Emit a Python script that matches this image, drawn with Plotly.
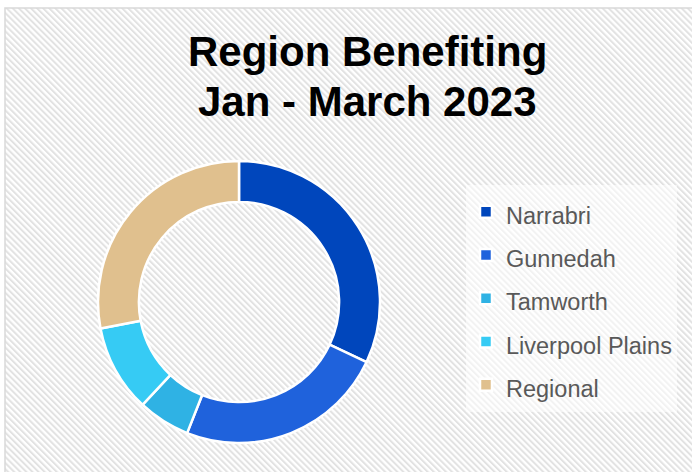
import base64
import plotly.graph_objects as go

labels = ["Narrabri", "Gunnedah", "Tamworth", "Liverpool Plains", "Regional"]
values = [32, 24, 6, 10, 28]
colors = ["#0046bc", "#1f62dc", "#2fb2e4", "#36cbf4", "#e0c08e"]

W, H = 692, 472

# diagonal hatch background as an SVG image
svg = (
    f'<svg xmlns="http://www.w3.org/2000/svg" width="{W-5}" height="{H-8}">'
    '<defs><pattern id="p" width="4.3" height="4.3" patternUnits="userSpaceOnUse" '
    'patternTransform="rotate(-45)">'
    '<rect width="4.3" height="4.3" fill="#ffffff"/>'
    '<rect width="2" height="4.3" fill="#e2e2e2"/></pattern></defs>'
    '<rect width="100%" height="100%" fill="url(#p)"/></svg>'
)
src = "data:image/svg+xml;base64," + base64.b64encode(svg.encode()).decode()

legend_labels = [f'<span style="font-size:23.5px">{l}</span>' for l in labels]

cx, cy, r = 239, 302, 141
fig = go.Figure(
    go.Pie(
        labels=legend_labels,
        values=values,
        hole=0.71,
        sort=False,
        direction="clockwise",
        rotation=0,
        textinfo="none",
        marker=dict(colors=colors, line=dict(color="#ffffff", width=2.5)),
        domain=dict(x=[(cx - r) / W, (cx + r) / W],
                    y=[(H - cy - r) / H, (H - cy + r) / H]),
    )
)

fig.update_layout(
    width=W,
    height=H,
    margin=dict(l=0, r=0, t=0, b=0),
    paper_bgcolor="#ffffff",
    plot_bgcolor="#ffffff",
    images=[dict(source=src, xref="paper", yref="paper", x=5 / W, y=(H - 8) / H,
                 sizex=(W - 5) / W, sizey=(H - 8) / H, xanchor="left", yanchor="top",
                 sizing="stretch", layer="below")],
    shapes=[dict(type="rect", xref="paper", yref="paper", x0=5 / W, x1=1.01,
                 y0=-0.01, y1=(H - 8) / H, line=dict(color="#d9d9d9", width=1.5))],
    annotations=[
        dict(text="<b>Region Benefiting</b>", x=367 / W, y=1 - 51 / H, xref="paper",
             yref="paper", showarrow=False, xanchor="center", yanchor="middle",
             font=dict(family="Liberation Sans, Arial", size=42, color="#000000")),
        dict(text="<b>Jan - March 2023</b>", x=367 / W, y=1 - 101 / H, xref="paper",
             yref="paper", showarrow=False, xanchor="center", yanchor="middle",
             font=dict(family="Liberation Sans, Arial", size=42, color="#000000")),
    ],
    showlegend=True,
    legend=dict(
        x=466 / W, y=1 - 185 / H, xanchor="left", yanchor="top",
        bgcolor="rgba(255,255,255,0.55)",
        font=dict(family="Liberation Sans, Arial", size=31, color="#595959"),
        itemwidth=30,
        tracegroupgap=0,
    ),
)

fig.write_html("out.html", config={"displayModeBar": False},
               post_script="document.body.style.margin='0';")
